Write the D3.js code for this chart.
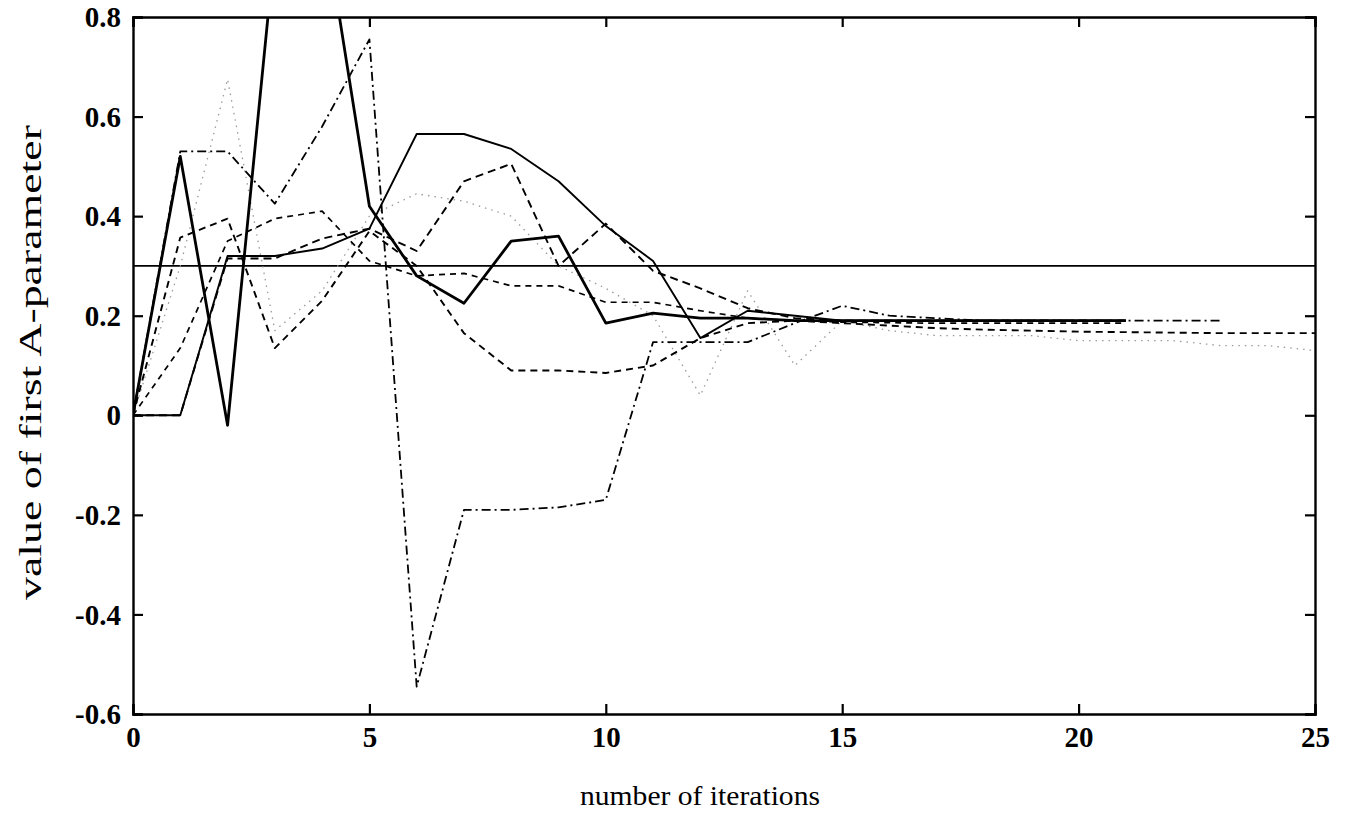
<!DOCTYPE html>
<html lang="en">
<head>
<meta charset="UTF-8">
<script src="https://d3js.org/d3.v7.min.js"></script>
<style>
  html, body { margin: 0; padding: 0; background: #fff; }
  svg { display: block; }
  .tick text { font-family: 'Liberation Serif', 'DejaVu Serif', serif; font-weight: bold; font-size: 29px; fill: #000; }
  .axis-title { font-family: 'Liberation Serif', 'DejaVu Serif', serif; font-size: 28px; fill: #000; }
</style>
</head>
<body>
<div id="chart"></div>
<script>
// ---- data ----
var iterations = d3.range(0, 26);

var xTicks = [0, 5, 10, 15, 20, 25];
var xTickLabels = ['0', '5', '10', '15', '20', '25'];
var yTicks = [-0.6, -0.4, -0.2, 0, 0.2, 0.4, 0.6, 0.8];
var yTickLabels = ['-0.6', '-0.4', '-0.2', '0', '0.2', '0.4', '0.6', '0.8'];

// true value of the parameter
var trueValue = [0.3, 0.3];
var trueIter = [0, 25];

// thick solid, oscillating run
var runThick = [0, 0.52, -0.02, 0.94, 1.02, 0.42, 0.28, 0.225, 0.35, 0.36, 0.185, 0.205,
  0.195, 0.195, 0.19, 0.19, 0.19, 0.19, 0.19, 0.19, 0.19, 0.19];
// thin solid run
var runSolid = [0, 0, 0.32, 0.32, 0.335, 0.375, 0.565, 0.565, 0.535, 0.47, 0.38, 0.31,
  0.155, 0.21, 0.2, 0.19, 0.19, 0.19, 0.19, 0.19, 0.19, 0.19];
// dash-dot run with the deep dip
var runDashDot = [0, 0.53, 0.53, 0.425, 0.58, 0.755, -0.545, -0.19, -0.19, -0.185, -0.17, 0.147,
  0.147, 0.147, 0.185, 0.22, 0.2, 0.195, 0.19, 0.19, 0.19, 0.19, 0.19, 0.19];
// dashed runs
var runDashA = [0, 0.357, 0.395, 0.135, 0.23, 0.37, 0.3, 0.165, 0.09, 0.09, 0.085, 0.1,
  0.155, 0.185, 0.19, 0.185, 0.18, 0.175, 0.172, 0.17, 0.168, 0.167, 0.166, 0.165, 0.165, 0.165];
var runDashB = [0, 0.135, 0.35, 0.395, 0.41, 0.31, 0.28, 0.285, 0.26, 0.26, 0.227, 0.227,
  0.21, 0.195, 0.19, 0.187, 0.186, 0.185, 0.185, 0.185, 0.185, 0.185];
var runDashC = [0, 0, 0.315, 0.315, 0.355, 0.375, 0.33, 0.47, 0.505, 0.3, 0.385, 0.29,
  0.255, 0.215, 0.195, 0.19, 0.19, 0.19, 0.19, 0.19, 0.19, 0.19];
// faint dotted run
var runDotted = [0, 0.3, 0.675, 0.17, 0.25, 0.4, 0.445, 0.43, 0.4, 0.3, 0.255, 0.2,
  0.04, 0.25, 0.1, 0.19, 0.17, 0.16, 0.16, 0.16, 0.15, 0.15, 0.15, 0.14, 0.14, 0.13];

// ---- layout ----
var width = 1350, height = 821;
var margin = {left: 133, right: 35, top: 17, bottom: 107};
var plotW = width - margin.left - margin.right;
var plotH = height - margin.top - margin.bottom;

var svg = d3.select('#chart').append('svg')
  .attr('width', width)
  .attr('height', height);

var g = svg.append('g')
  .attr('transform', 'translate(' + margin.left + ',' + margin.top + ')');

var x = d3.scaleLinear().domain([0, 25]).range([0, plotW]);
var y = d3.scaleLinear().domain([-0.6, 0.8]).range([plotH, 0]);

g.append('clipPath').attr('id', 'plotClip')
  .append('rect').attr('width', plotW).attr('height', plotH);

var line = d3.line()
  .x(function(d) { return x(d[0]); })
  .y(function(d) { return y(d[1]); });

function pairs(values, iters) {
  return values.map(function(v, i) { return [iters ? iters[i] : iterations[i], v]; });
}

var series = [
  {values: runDotted, stroke: '#9a9a9a', width: 1.3, dash: '1.5,5'},
  {values: runDashA, stroke: '#000', width: 1.9, dash: '7,5'},
  {values: runDashB, stroke: '#000', width: 1.7, dash: '6,5'},
  {values: runDashC, stroke: '#000', width: 1.9, dash: '8,5'},
  {values: runDashDot, stroke: '#000', width: 1.8, dash: '9,4,2,4'},
  {values: runSolid, stroke: '#000', width: 1.9, dash: null},
  {values: runThick, stroke: '#000', width: 2.8, dash: null}
];

var lines = g.append('g').attr('clip-path', 'url(#plotClip)');

lines.append('path')
  .attr('d', line(pairs(trueValue, trueIter)))
  .attr('fill', 'none')
  .attr('stroke', '#000')
  .attr('stroke-width', 1.8);

lines.selectAll('.run')
  .data(series)
  .enter().append('path')
  .attr('class', 'run')
  .attr('d', function(d) { return line(pairs(d.values)); })
  .attr('fill', 'none')
  .attr('stroke', function(d) { return d.stroke; })
  .attr('stroke-width', function(d) { return d.width; })
  .attr('stroke-dasharray', function(d) { return d.dash; })
  .attr('stroke-linejoin', 'round');

// ---- axes, ticks pointing inward ----
var xAxis = d3.axisBottom(x).tickValues(xTicks)
  .tickFormat(function(d, i) { return xTickLabels[i]; })
  .tickSize(-10).tickPadding(8);
var yAxis = d3.axisLeft(y).tickValues(yTicks)
  .tickFormat(function(d, i) { return yTickLabels[i]; })
  .tickSize(-10).tickPadding(12);

var gx = g.append('g').attr('transform', 'translate(0,' + plotH + ')').call(xAxis);
var gy = g.append('g').call(yAxis);
var gt = g.append('g').call(d3.axisTop(x).tickValues(xTicks).tickFormat('').tickSize(-10));
var gr = g.append('g').attr('transform', 'translate(' + plotW + ',0)')
  .call(d3.axisRight(y).tickValues(yTicks).tickFormat('').tickSize(-10));

[gx, gy, gt, gr].forEach(function(a) {
  a.select('.domain').attr('stroke', '#000').attr('stroke-width', 2.4);
  a.selectAll('.tick line').attr('stroke', '#000').attr('stroke-width', 2.2);
});
gx.selectAll('.tick text').attr('dy', '0.85em');
gy.selectAll('.tick text').attr('dy', '0.33em');

// ---- axis titles ----
svg.append('text')
  .attr('class', 'axis-title')
  .attr('x', 580)
  .attr('y', 805)
  .attr('textLength', 240)
  .attr('lengthAdjust', 'spacingAndGlyphs')
  .text('number of iterations');

svg.append('text')
  .attr('class', 'axis-title')
  .style('font-size', '31px')
  .attr('transform', 'translate(41,600) rotate(-90)')
  .attr('textLength', 475)
  .attr('lengthAdjust', 'spacingAndGlyphs')
  .text('value of first A-parameter');
</script>
</body>
</html>
